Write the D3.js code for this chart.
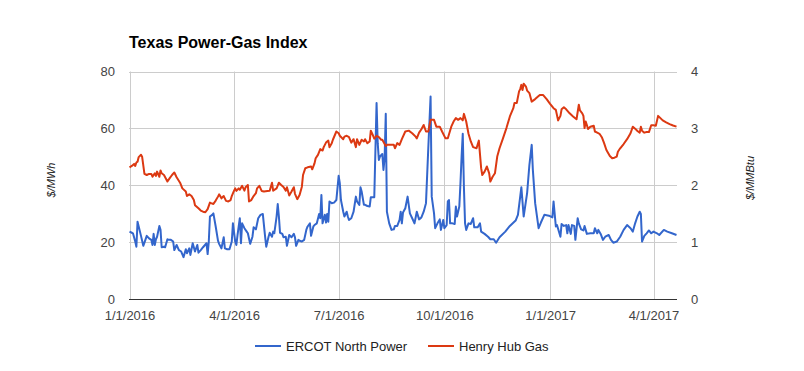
<!DOCTYPE html>
<html><head><meta charset="utf-8">
<script src="https://cdn.jsdelivr.net/npm/d3@7"></script>
<style>body{margin:0;background:#fff}svg{display:block}text{font-family:"Liberation Sans",Arial,sans-serif}</style>
</head><body><svg id="c" width="804" height="371"></svg>
<script>
const title = "Texas Power-Gas Index";
const seriesNames = ["ERCOT North Power", "Henry Hub Gas"];
const axisTitles = ["$/MWh", "$/MMBtu"];
const xTickLabels = ["2016-01-01","2016-04-01","2016-07-01","2016-10-01","2017-01-01","2017-04-01"];
const leftTicks = [0,20,40,60,80];
const rightTicks = [0,1,2,3,4];

const powerDates = ["2016-01-01","2016-01-03","2016-01-04","2016-01-06","2016-01-07","2016-01-08","2016-01-09","2016-01-11","2016-01-13","2016-01-14","2016-01-16","2016-01-18","2016-01-20","2016-01-21","2016-01-22","2016-01-23","2016-01-24","2016-01-25","2016-01-27","2016-01-28","2016-01-29","2016-01-31","2016-02-01","2016-02-03","2016-02-04","2016-02-06","2016-02-08","2016-02-09","2016-02-11","2016-02-13","2016-02-15","2016-02-17","2016-02-19","2016-02-20","2016-02-22","2016-02-23","2016-02-25","2016-02-27","2016-02-29","2016-03-01","2016-03-03","2016-03-05","2016-03-08","2016-03-09","2016-03-10","2016-03-11","2016-03-13","2016-03-14","2016-03-16","2016-03-18","2016-03-19","2016-03-21","2016-03-23","2016-03-24","2016-03-26","2016-03-28","2016-03-30","2016-03-31","2016-04-01","2016-04-02","2016-04-03","2016-04-04","2016-04-06","2016-04-07","2016-04-08","2016-04-10","2016-04-12","2016-04-13","2016-04-15","2016-04-17","2016-04-18","2016-04-20","2016-04-22","2016-04-24","2016-04-26","2016-04-28","2016-04-29","2016-05-01","2016-05-02","2016-05-04","2016-05-05","2016-05-06","2016-05-08","2016-05-09","2016-05-10","2016-05-11","2016-05-13","2016-05-14","2016-05-16","2016-05-17","2016-05-19","2016-05-21","2016-05-23","2016-05-24","2016-05-25","2016-05-27","2016-05-28","2016-05-30","2016-06-01","2016-06-03","2016-06-04","2016-06-06","2016-06-07","2016-06-09","2016-06-10","2016-06-12","2016-06-14","2016-06-15","2016-06-16","2016-06-17","2016-06-19","2016-06-20","2016-06-21","2016-06-22","2016-06-23","2016-06-25","2016-06-27","2016-06-29","2016-07-01","2016-07-02","2016-07-03","2016-07-05","2016-07-06","2016-07-08","2016-07-09","2016-07-10","2016-07-12","2016-07-14","2016-07-16","2016-07-17","2016-07-19","2016-07-20","2016-07-21","2016-07-23","2016-07-24","2016-07-26","2016-07-28","2016-07-29","2016-07-31","2016-08-01","2016-08-03","2016-08-04","2016-08-05","2016-08-06","2016-08-08","2016-08-09","2016-08-10","2016-08-11","2016-08-12","2016-08-14","2016-08-16","2016-08-18","2016-08-19","2016-08-21","2016-08-23","2016-08-24","2016-08-25","2016-08-26","2016-08-28","2016-08-30","2016-09-01","2016-09-03","2016-09-05","2016-09-07","2016-09-09","2016-09-11","2016-09-13","2016-09-15","2016-09-17","2016-09-19","2016-09-20","2016-09-22","2016-09-23","2016-09-25","2016-09-27","2016-09-28","2016-09-30","2016-10-01","2016-10-03","2016-10-04","2016-10-05","2016-10-06","2016-10-08","2016-10-10","2016-10-11","2016-10-12","2016-10-14","2016-10-15","2016-10-16","2016-10-17","2016-10-18","2016-10-19","2016-10-20","2016-10-22","2016-10-24","2016-10-26","2016-10-27","2016-10-30","2016-11-01","2016-11-02","2016-11-05","2016-11-08","2016-11-10","2016-11-13","2016-11-15","2016-11-18","2016-11-23","2016-11-27","2016-12-02","2016-12-04","2016-12-06","2016-12-07","2016-12-09","2016-12-12","2016-12-14","2016-12-16","2016-12-17","2016-12-19","2016-12-22","2016-12-24","2016-12-27","2016-12-31","2017-01-03","2017-01-04","2017-01-06","2017-01-07","2017-01-10","2017-01-11","2017-01-13","2017-01-15","2017-01-16","2017-01-17","2017-01-19","2017-01-20","2017-01-22","2017-01-23","2017-01-25","2017-01-26","2017-01-28","2017-01-30","2017-01-31","2017-02-02","2017-02-05","2017-02-08","2017-02-09","2017-02-11","2017-02-12","2017-02-14","2017-02-16","2017-02-18","2017-02-21","2017-02-23","2017-02-25","2017-02-28","2017-03-03","2017-03-06","2017-03-09","2017-03-12","2017-03-14","2017-03-16","2017-03-18","2017-03-20","2017-03-21","2017-03-22","2017-03-24","2017-03-26","2017-03-28","2017-03-30","2017-04-01","2017-04-04","2017-04-06","2017-04-10","2017-04-13","2017-04-17","2017-04-21"];
const powerValues = [23.7,23.3,23.1,20.2,18.4,27.2,25.5,22.2,18.7,19.8,22.2,21.3,20.8,19,22.9,19,21,21.9,25.7,24.3,18.2,18.4,18.2,21,20.8,20.8,20.2,17.2,19,17.2,16.7,14.7,17.5,16.1,17.8,15.5,19.6,16.7,19,16.3,17.2,18.2,19.6,15.8,20.2,29,29.6,30.1,25.5,20.5,19.4,17.8,21.7,17.8,17.5,17.5,20.2,26.6,23.3,20.2,19,22.5,28.4,19.6,26.6,24.9,23.7,23.1,19.4,21.9,25.2,24.5,28.4,29.6,29.9,21.9,18.4,21.9,23.3,21.9,23.7,23.1,29,33.4,29,23.3,22.9,21.7,21.9,18.7,22.5,21.7,22.9,21.7,18.7,20.8,20.5,20.2,20.8,24.5,25.5,26.6,22.2,25.5,26,26.6,29.9,28.4,36.6,26.6,29.6,26.9,29.9,27.2,34.3,33.7,33.9,34.8,43.3,40.7,34.8,30.7,29,30.7,29,27.8,28.4,30.7,36,34.3,33.1,39.3,37.8,33.1,33.1,32.7,32.5,35.8,35.8,35.8,68.9,54.8,48.9,50.1,51,45.4,49.5,65.1,30.7,26.6,24.3,24.5,25.7,25.7,27.8,30.7,26.6,30.4,31.9,36,30.1,28.4,26.6,30.7,28,28.7,30.7,33.7,53,71.2,36,30.1,24.9,26.6,28,24.3,27.8,24.9,26,34.3,34.8,26.6,26.6,26.4,32.5,29,32.5,40.7,50.1,58.1,39.5,26.6,24.3,26.6,26.4,28.4,25.2,25.2,26.6,23.7,22.9,21.9,21,21,19.8,21.7,23.7,25.7,27.6,29.6,36,39.3,29,37.2,47.2,54.2,45.4,33.7,24.9,26.9,29.6,29.3,28.7,34.3,25.5,26,21.9,26.4,25.7,26,23.1,26,22.9,26,25.7,20.8,28.4,26.6,24.5,24.1,25.7,22.9,23.1,23.1,24.9,23.1,24.3,22.9,20.8,21.9,22.5,20.8,19.8,20.2,21.9,24.3,26,24.9,23.7,26.6,29,30.7,29.9,20.2,22.2,23.1,24.1,23.1,23.7,23.1,22.5,24.3,23.7,23.1,22.5];

const gasDates = ["2016-01-01","2016-01-03","2016-01-05","2016-01-06","2016-01-07","2016-01-08","2016-01-09","2016-01-11","2016-01-12","2016-01-14","2016-01-16","2016-01-18","2016-01-20","2016-01-21","2016-01-23","2016-01-24","2016-01-25","2016-01-27","2016-01-28","2016-01-29","2016-01-31","2016-02-03","2016-02-05","2016-02-07","2016-02-09","2016-02-11","2016-02-14","2016-02-16","2016-02-19","2016-02-20","2016-02-22","2016-02-24","2016-02-26","2016-02-27","2016-03-01","2016-03-03","2016-03-05","2016-03-07","2016-03-09","2016-03-11","2016-03-12","2016-03-14","2016-03-16","2016-03-18","2016-03-19","2016-03-21","2016-03-23","2016-03-25","2016-03-27","2016-03-29","2016-03-30","2016-04-01","2016-04-02","2016-04-03","2016-04-05","2016-04-06","2016-04-08","2016-04-10","2016-04-11","2016-04-13","2016-04-14","2016-04-16","2016-04-18","2016-04-20","2016-04-21","2016-04-23","2016-04-25","2016-04-27","2016-04-30","2016-05-02","2016-05-04","2016-05-05","2016-05-08","2016-05-10","2016-05-12","2016-05-14","2016-05-16","2016-05-17","2016-05-19","2016-05-21","2016-05-23","2016-05-24","2016-05-26","2016-05-28","2016-05-30","2016-05-31","2016-06-02","2016-06-04","2016-06-07","2016-06-08","2016-06-10","2016-06-11","2016-06-13","2016-06-15","2016-06-17","2016-06-18","2016-06-20","2016-06-22","2016-06-23","2016-06-25","2016-06-26","2016-06-29","2016-07-01","2016-07-02","2016-07-05","2016-07-06","2016-07-08","2016-07-10","2016-07-12","2016-07-14","2016-07-16","2016-07-17","2016-07-19","2016-07-21","2016-07-23","2016-07-24","2016-07-26","2016-07-28","2016-07-29","2016-07-31","2016-08-01","2016-08-03","2016-08-05","2016-08-07","2016-08-08","2016-08-11","2016-08-12","2016-08-15","2016-08-18","2016-08-19","2016-08-21","2016-08-23","2016-08-25","2016-08-28","2016-08-31","2016-09-03","2016-09-06","2016-09-07","2016-09-09","2016-09-11","2016-09-13","2016-09-15","2016-09-17","2016-09-19","2016-09-22","2016-09-24","2016-09-27","2016-09-29","2016-10-02","2016-10-04","2016-10-07","2016-10-09","2016-10-11","2016-10-13","2016-10-15","2016-10-17","2016-10-18","2016-10-20","2016-10-22","2016-10-24","2016-10-26","2016-10-29","2016-10-31","2016-11-02","2016-11-03","2016-11-05","2016-11-07","2016-11-09","2016-11-10","2016-11-12","2016-11-14","2016-11-16","2016-11-18","2016-11-21","2016-11-24","2016-11-27","2016-11-30","2016-12-01","2016-12-03","2016-12-05","2016-12-06","2016-12-07","2016-12-08","2016-12-09","2016-12-11","2016-12-12","2016-12-14","2016-12-16","2016-12-19","2016-12-22","2016-12-23","2016-12-26","2016-12-29","2017-01-01","2017-01-04","2017-01-06","2017-01-08","2017-01-10","2017-01-11","2017-01-13","2017-01-15","2017-01-18","2017-01-21","2017-01-24","2017-01-26","2017-01-27","2017-01-29","2017-01-30","2017-01-31","2017-02-01","2017-02-02","2017-02-03","2017-02-05","2017-02-08","2017-02-09","2017-02-11","2017-02-13","2017-02-15","2017-02-17","2017-02-19","2017-02-22","2017-02-24","2017-02-26","2017-02-28","2017-03-01","2017-03-03","2017-03-06","2017-03-09","2017-03-12","2017-03-14","2017-03-16","2017-03-18","2017-03-20","2017-03-21","2017-03-22","2017-03-24","2017-03-26","2017-03-28","2017-03-30","2017-04-01","2017-04-03","2017-04-05","2017-04-07","2017-04-09","2017-04-12","2017-04-15","2017-04-18","2017-04-21"];
const gasValues = [2.315,2.34,2.375,2.34,2.4,2.415,2.495,2.535,2.5,2.2,2.18,2.2,2.2,2.15,2.21,2.165,2.24,2.15,2.26,2.21,2.18,2.065,2.125,2.18,2.225,2.14,2.045,1.945,1.89,1.81,1.84,1.81,1.74,1.65,1.595,1.555,1.535,1.525,1.58,1.695,1.685,1.67,1.73,1.8,1.84,1.77,1.81,1.725,1.715,1.74,1.81,1.905,1.945,1.9,1.945,1.92,1.99,1.905,1.965,2.005,1.715,1.74,1.81,1.86,1.945,1.99,1.9,1.89,1.9,1.905,2.045,1.905,1.945,2.045,2.005,1.97,1.905,1.965,1.82,1.89,1.965,1.85,1.755,1.83,1.975,2.18,2.3,2.315,2.33,2.28,2.385,2.475,2.535,2.635,2.61,2.67,2.75,2.785,2.67,2.74,2.8,2.945,2.915,2.87,2.81,2.855,2.87,2.845,2.75,2.81,2.67,2.81,2.71,2.8,2.77,2.81,2.74,2.77,2.96,2.87,2.82,2.87,2.845,2.8,2.8,2.69,2.71,2.71,2.71,2.65,2.74,2.71,2.81,2.945,2.96,2.915,2.855,2.825,2.925,2.985,3.06,2.945,2.945,3.15,3.15,3.03,3.03,2.945,2.825,2.825,3.03,3.12,3.18,3.15,3.18,3.14,3.255,3.12,2.905,2.77,2.67,2.65,2.785,2.3,2.18,2.24,2.33,2.21,2.065,2.15,2.21,2.505,2.65,2.825,3.005,3.21,3.355,3.445,3.445,3.65,3.69,3.765,3.675,3.785,3.735,3.665,3.62,3.47,3.515,3.57,3.585,3.585,3.515,3.43,3.355,3.325,3.14,3.22,3.335,3.37,3.335,3.265,3.21,3.16,3.415,3.315,3.265,3.22,3.005,3.12,3.06,2.99,3.03,3.045,2.945,2.925,2.905,2.845,2.74,2.62,2.515,2.475,2.485,2.505,2.59,2.65,2.725,2.81,2.915,3.03,2.995,2.955,2.925,3.03,2.96,2.925,2.935,2.935,3.055,3.055,3.045,3.22,3.18,3.14,3.105,3.075,3.05,3.03];

const parse = d3.timeParse("%Y-%m-%d");
const fmt = d3.timeFormat("%-m/%-d/%Y");
const power = powerDates.map((d,i)=>({date:parse(d), v:powerValues[i]}));
const gas = gasDates.map((d,i)=>({date:parse(d), v:gasValues[i]}));

const svg = d3.select("#c");
const x = d3.scaleTime().domain([parse("2016-01-01"), parse("2017-04-21")]).range([129.5, 676.5]);
const yL = d3.scaleLinear().domain([0,80]).range([299,71.5]);
const yR = d3.scaleLinear().domain([0,4]).range([299,71.5]);

// gridlines
const g = svg.append("g");
g.selectAll(".hg").data(leftTicks.filter(t=>t>0)).join("line")
  .attr("x1",129).attr("x2",677)
  .attr("y1",d=>Math.round(yL(d))+0.5).attr("y2",d=>Math.round(yL(d))+0.5)
  .attr("stroke","#cccccc");
g.selectAll(".vg").data(xTickLabels.map(parse)).join("line")
  .attr("x1",d=>Math.round(x(d))+0.5).attr("x2",d=>Math.round(x(d))+0.5)
  .attr("y1",71.5).attr("y2",299)
  .attr("stroke","#cccccc");

// axes
const axL = d3.axisLeft(yL).tickValues(leftTicks).tickSize(0).tickPadding(14);
const axR = d3.axisRight(yR).tickValues(rightTicks).tickFormat(d3.format("d")).tickSize(0).tickPadding(14);
const axB = d3.axisBottom(x).tickValues(xTickLabels.map(parse)).tickFormat(fmt).tickSize(0).tickPadding(12);
function style(sel){
  sel.select(".domain").remove();
  sel.selectAll("text").attr("font-size",13).attr("fill","#444").attr("font-family","'Liberation Sans',Arial,sans-serif");
}
svg.append("g").attr("transform","translate(129,0)").call(axL).call(style);
svg.append("g").attr("transform","translate(677,0)").call(axR).call(style);
svg.append("g").attr("transform","translate(0,299)").call(axB).call(style);

// lines
const lineL = d3.line().x(d=>x(d.date)).y(d=>yL(d.v));
const lineR = d3.line().x(d=>x(d.date)).y(d=>yR(d.v));
svg.append("path").datum(power).attr("d",lineL).attr("fill","none").attr("stroke","#3366cc").attr("stroke-width",2).attr("stroke-linejoin","round");
svg.append("path").datum(gas).attr("d",lineR).attr("fill","none").attr("stroke","#dc3912").attr("stroke-width",2).attr("stroke-linejoin","round");

// baseline
svg.append("line").attr("x1",129).attr("x2",677).attr("y1",299.5).attr("y2",299.5).attr("stroke","#333").attr("stroke-width",1);

// title
svg.append("text").attr("x",129).attr("y",48).attr("font-size",16).attr("font-weight","bold").attr("fill","#000").text(title);

// axis titles
svg.append("text").attr("transform","translate(55,180) rotate(-90)").attr("text-anchor","middle")
  .attr("font-size",11).attr("font-style","italic").attr("fill","#222").text(axisTitles[0]);
svg.append("text").attr("transform","translate(754,178) rotate(-90)").attr("text-anchor","middle")
  .attr("font-size",11).attr("font-style","italic").attr("fill","#222").text(axisTitles[1]);

// legend
const legend = [{name:seriesNames[0], color:"#3366cc", x:255},{name:seriesNames[1], color:"#dc3912", x:428}];
const lg = svg.selectAll(".lg").data(legend).join("g");
lg.append("line").attr("x1",d=>d.x).attr("x2",d=>d.x+26).attr("y1",346).attr("y2",346).attr("stroke",d=>d.color).attr("stroke-width",2);
lg.append("text").attr("x",d=>d.x+31).attr("y",350.5).attr("font-size",13).attr("fill","#222").text(d=>d.name);
</script>
</body></html>
